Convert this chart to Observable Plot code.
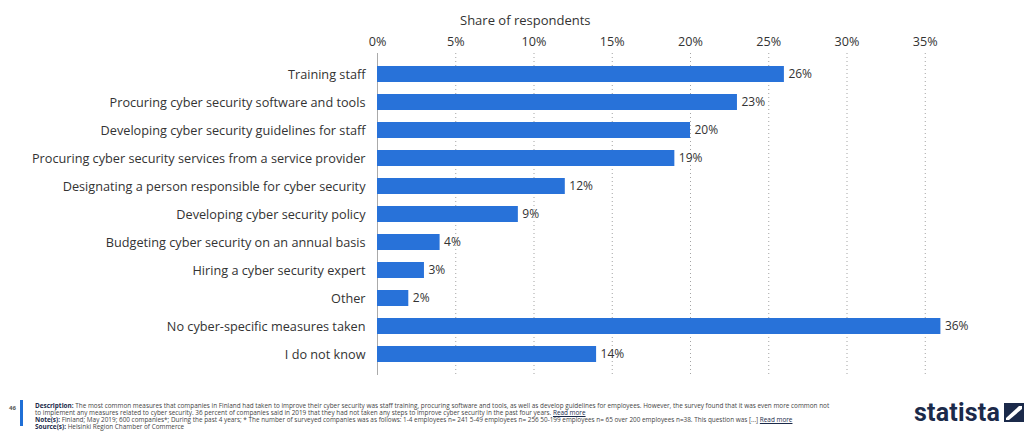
<!DOCTYPE html>
<html>
<head>
<meta charset="utf-8">
<script src="https://cdn.jsdelivr.net/npm/d3@7"></script>
<script src="https://cdn.jsdelivr.net/npm/@observablehq/plot@0.6"></script>
<style>
  body { margin: 0; background: #fff; font-family: "Open Sans", sans-serif; width: 1024px; height: 434px; overflow: hidden; position: relative; }
  #title { position: absolute; left: 460px; top: 11px; font-size: 13px; color: #333; }
  #chart { position: absolute; left: 0; top: 32px; }
  #footer { position: absolute; left: 0; top: 398px; width: 1024px; height: 36px; }
  #pg { position: absolute; left: 9px; top: 6px; font-size: 6px; font-weight: bold; color: #555; }
  #bar { position: absolute; left: 20px; top: 2px; width: 3px; height: 26px; background: #1f6fd6; }
  #notes { position: absolute; left: 35px; top: 4px; font-size: 6.4px; line-height: 7px; color: #444; white-space: nowrap; }
  #notes div { white-space: nowrap; height: 7px; }
  #notes b { color: #1b2a4a; }
  #notes u { color: #1b2a4a; }
  #logo { position: absolute; left: 914px; top: 0px; font-size: 25px; font-weight: bold; color: #1b2a4a; font-family: "Roboto", sans-serif; letter-spacing: 0.2px; white-space: nowrap; }
  #logo svg { margin-left: 4px; vertical-align: -1px; }
</style>
</head>
<body>
<div id="title">Share of respondents</div>
<div id="chart"></div>
<div id="footer">
  <div id="pg">46</div>
  <div id="bar"></div>
  <div id="notes">
    <div><b>Description:</b> The most common measures that companies in Finland had taken to improve their cyber security was staff training, procuring software and tools, as well as develop guidelines for employees. However, the survey found that it was even more common not</div>
    <div>to implement any measures related to cyber security. 36 percent of companies said in 2019 that they had not taken any steps to improve cyber security in the past four years. <u>Read more</u></div>
    <div><b>Note(s):</b> Finland; May 2019; 600 companies*; During the past 4 years; * The number of surveyed companies was as follows: 1-4 employees n= 241 5-49 employees n= 256 50-199 employees n= 65 over 200 employees n=38. This question was [...] <u>Read more</u></div>
    <div><b>Source(s):</b> Helsinki Region Chamber of Commerce</div>
  </div>
  <div id="logo">statista<svg width="20" height="19" viewBox="0 0 20 19"><rect width="20" height="19" fill="#1b2a4a"/><path d="M2 15 L15 3 L18 3 L18 6 L5 17 L2 17 Z" fill="#fff"/></svg></div>
</div>
<script>
const categories = [
  "Training staff",
  "Procuring cyber security software and tools",
  "Developing cyber security guidelines for staff",
  "Procuring cyber security services from a service provider",
  "Designating a person responsible for cyber security",
  "Developing cyber security policy",
  "Budgeting cyber security on an annual basis",
  "Hiring a cyber security expert",
  "Other",
  "No cyber-specific measures taken",
  "I do not know"
];
const values = [26, 23, 20, 19, 12, 9, 4, 3, 2, 36, 14];
const xTicks = [0, 5, 10, 15, 20, 25, 30, 35];

const data = categories.map((c, i) => ({category: c, value: values[i]}));

const chart = Plot.plot({
  width: 1024,
  height: 360,
  marginLeft: 377,
  marginRight: 21,
  marginTop: 21,
  marginBottom: 17,
  style: {fontFamily: "Open Sans, sans-serif", fontSize: "12.6px", color: "#333"},
  x: {domain: [0, 40], axis: null},
  y: {domain: categories, padding: 0.43, axis: null},
  marks: [
    Plot.gridX(xTicks.filter(d => d > 0), {stroke: "#999", strokeOpacity: 0.9, strokeDasharray: "1,3", strokeWidth: 1}),
    Plot.ruleX([0], {stroke: "#aaa"}),
    Plot.axisX({anchor: "top", ticks: xTicks, tickFormat: d => d + "%", tickSize: 0, tickPadding: 8, label: null, fontSize: 12.6, fill: "#333"}),
    Plot.axisY({anchor: "left", tickSize: 0, tickPadding: 12, label: null, fontSize: 12.7, fill: "#333"}),
    Plot.barX(data, {x: "value", y: "category", fill: "#2872d9"}),
    Plot.text(data, {x: "value", y: "category", text: d => d.value + "%", textAnchor: "start", dx: 4, fontSize: 12, fill: "#333"})
  ]
});
document.getElementById("chart").appendChild(chart);
</script>
</body>
</html>
